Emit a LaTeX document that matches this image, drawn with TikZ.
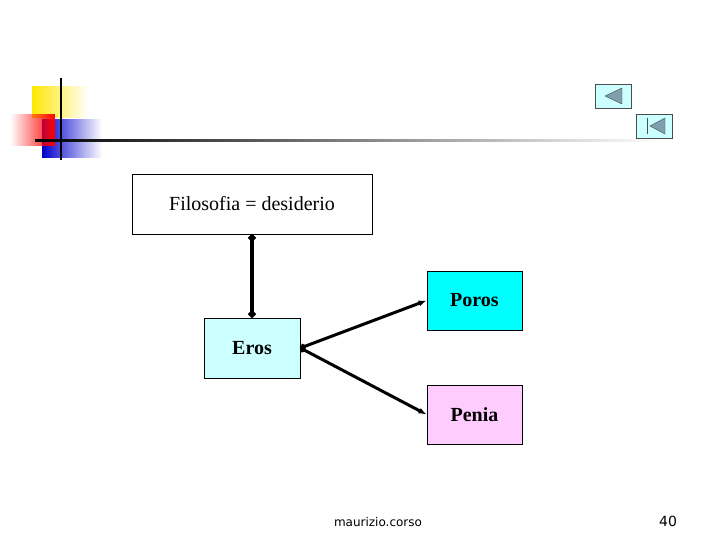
\documentclass[tikz,border=0pt]{standalone}
\usepackage{fontspec}
\setmainfont{Liberation Serif}
\newfontfamily\footfont{DejaVu Sans}
\usetikzlibrary{arrows.meta,fadings}
\definecolor{erosfill}{RGB}{204,255,255}
\definecolor{porosfill}{RGB}{0,255,255}
\definecolor{peniafill}{RGB}{255,204,255}
\definecolor{navfill}{RGB}{204,255,255}
\tikzset{
  box/.style={draw, thick, inner sep=0pt, font=\bfseries\fontsize{20}{22}\selectfont},
  link/.style={line width=3pt, {Circle[length=6pt]}-{Latex[length=8pt]}},
  navbtn/.style={draw=black!70, fill=navfill}
}
\begin{document}
\begin{tikzpicture}[x=1pt,y=-1pt]
  \useasboundingbox (0,0) rectangle (720,540);
  % logo
  \fill[yellow!90!orange, path fading=east] (32,86) rectangle (88,118);
  \fill[blue!80!black, path fading=east] (42,119) rectangle (102,158);
  \fill[red, path fading=west] (10,114) rectangle (55,146);
  \shade[left color=black, right color=white] (35,140) rectangle (660,142);
  \draw[line width=1.5pt] (61,78) -- (61,160);
  % navigation
  \draw[navbtn] (595,84) rectangle (631,108);
  \filldraw[fill=gray!70!cyan, draw=black!70] (622,88) -- (622,104) -- (605,96) -- cycle;
  \draw[navbtn] (636,114) rectangle (672,138);
  \draw[black!70, line width=1pt] (647,118) -- (647,134);
  \filldraw[fill=gray!70!cyan, draw=black!70] (665,118) -- (665,134) -- (650,126) -- cycle;
  % boxes
  \node[box, font=\fontsize{20}{22}\selectfont, minimum width=240pt, minimum height=60pt] (filo) at (252,204)
    {Filosofia = desiderio};
  \node[box, fill=erosfill, minimum width=96pt, minimum height=60pt] (eros) at (252,348) {Eros};
  \node[box, fill=porosfill, minimum width=95pt, minimum height=59pt] (poros) at (474.5,300.5) {Poros};
  \node[box, fill=peniafill, minimum width=95pt, minimum height=59pt] (penia) at (474.5,414.5) {Penia};
  % links
  \draw[line width=4pt, {Circle[length=7pt]}-{Circle[length=7pt]}] (filo.south) -- (eros.north);
  \draw[link] (eros.east) -- (poros.west);
  \draw[link] (eros.east) -- (penia.west);
  % footer
  \node[font=\footfont\fontsize{12}{14}\selectfont] (author) at (378,522) {maurizio.corso};
  \node[font=\footfont\fontsize{14}{16}\selectfont] (page) at (668,521) {40};
\end{tikzpicture}
\end{document}
